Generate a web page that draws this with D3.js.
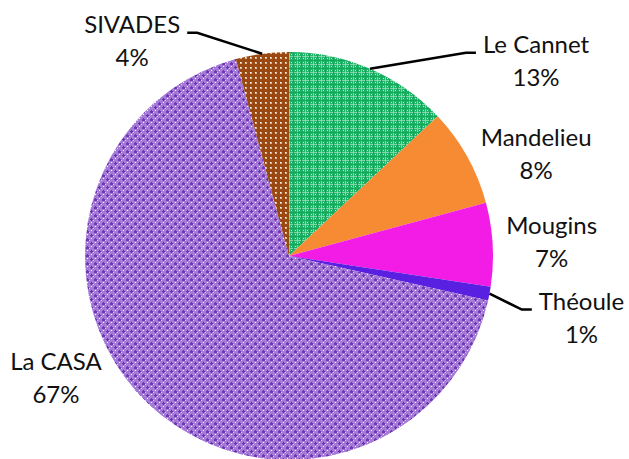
<!DOCTYPE html>
<html>
<head>
<meta charset="utf-8">
<script src="https://cdn.jsdelivr.net/npm/d3@7"></script>
<style>
  body { margin: 0; background: #fff; }
  svg { display: block; }
  text { font-family: Lato, "Noto Sans", sans-serif; font-size: 24px; fill: #111; }
</style>
</head>
<body>
<svg id="chart" width="629" height="459"></svg>
<script>

// data
const communes = ['Le Cannet', 'Mandelieu', 'Mougins', 'Théoule', 'La CASA', 'SIVADES']
const shares = [13.0, 7.8, 6.6, 1.1, 67.3, 4.2]

// layout
const width = 629
const height = 459
const cx = 289
const cy = 256
const radius = 204

// label offsets from the rim point at mid angle: [dx, dy of first baseline], leader or not
const labelLayout = [
    { dx: 166, dy: -16, leader: true },
    { dx: 69, dy: -11, leader: false },
    { dx: 59, dy: -10, leader: false },
    { dx: 92, dy: 16, leader: true },
    { dx: -92, dy: -33, leader: false },
    { dx: -130, dy: -21, leader: true }
]
const lineGap = 33

const svg = d3.select('#chart')
const defs = svg.append('defs')

// fills: plain colours, or small tiled patterns
function tile (id, size, base, draw) {
    const p = defs.append('pattern').attr('id', id)
        .attr('width', size).attr('height', size)
        .attr('patternUnits', 'userSpaceOnUse')
    p.append('rect').attr('width', size).attr('height', size).attr('fill', base)
    draw(p)
    return 'url(#' + id + ')'
}

function px (p, x, y, w, h, c) {
    p.append('rect').attr('x', x).attr('y', y).attr('width', w).attr('height', h).attr('fill', c)
}

const greenFill = tile('green', 8, '#1fb468', p => {
    px(p, 0, 0, 8, 1, '#7fd6a6')
    px(p, 0, 0, 1, 8, '#7fd6a6')
    px(p, 0, 4, 8, 1, '#14a85c')
    px(p, 4, 0, 1, 8, '#14a85c')
    px(p, 2, 2, 1, 1, '#c8f0da')
    px(p, 6, 6, 1, 1, '#c8f0da')
    px(p, 6, 2, 1, 1, '#c8f0da')
    px(p, 2, 6, 1, 1, '#c8f0da')
})

const purpleFill = tile('purple', 8, '#a37ad6', p => {
    px(p, 1, 3, 3, 1, '#6a2dae')
    px(p, 2, 2, 1, 3, '#6a2dae')
    px(p, 5, 7, 3, 1, '#7236b4')
    px(p, 6, 6, 1, 2, '#7236b4')
    px(p, 5, 0, 3, 1, '#7236b4')
    px(p, 6, 2, 1, 1, '#ffffff')
    px(p, 2, 6, 1, 1, '#ffffff')
    px(p, 4, 4, 1, 1, '#d9c6f0')
    px(p, 0, 0, 1, 1, '#d9c6f0')
})

const brownFill = tile('brown', 5, '#9a4912', p => {
    px(p, 1, 1, 2, 2, '#dcb698')
    px(p, 1, 1, 1, 1, '#ffffff')
})

const fills = [greenFill, '#f68b33', '#f21ce6', '#5a20e2', purpleFill, brownFill]

const pie = d3.pie().sort(null).value(d => d)
const arcs = pie(shares)
const arc = d3.arc().innerRadius(0).outerRadius(radius)
const total = d3.sum(shares)
const pct = d3.format('.0%')

const g = svg.append('g').attr('transform', `translate(${cx},${cy})`)

g.selectAll('path.slice')
    .data(arcs)
    .enter()
    .append('path')
    .attr('class', 'slice')
    .attr('d', arc)
    .attr('fill', (d, i) => fills[i])

// labels
const labels = g.append('g')

arcs.forEach((d, i) => {
    const a = (d.startAngle + d.endAngle) / 2
    const rim = [radius * Math.sin(a), -radius * Math.cos(a)]
    const lay = labelLayout[i]
    const lx = rim[0] + lay.dx
    const ly = rim[1] + lay.dy

    const t1 = labels.append('text').attr('x', lx).attr('y', ly).attr('text-anchor', 'middle').text(communes[i])
    labels.append('text').attr('x', lx).attr('y', ly + lineGap).attr('text-anchor', 'middle').text(pct(d.value / total))

    if (lay.leader) {
        const w = t1.node().getComputedTextLength()
        const side = lay.dx > 0 ? -1 : 1
        const endX = lx + side * (w / 2 + 7)
        const elbowX = endX + side * 10
        labels.append('path')
            .attr('d', d3.line()([rim, [elbowX, ly], [endX, ly]]))
            .attr('fill', 'none')
            .attr('stroke', '#000')
            .attr('stroke-width', 2.5)
    }
})

</script>
</body>
</html>
